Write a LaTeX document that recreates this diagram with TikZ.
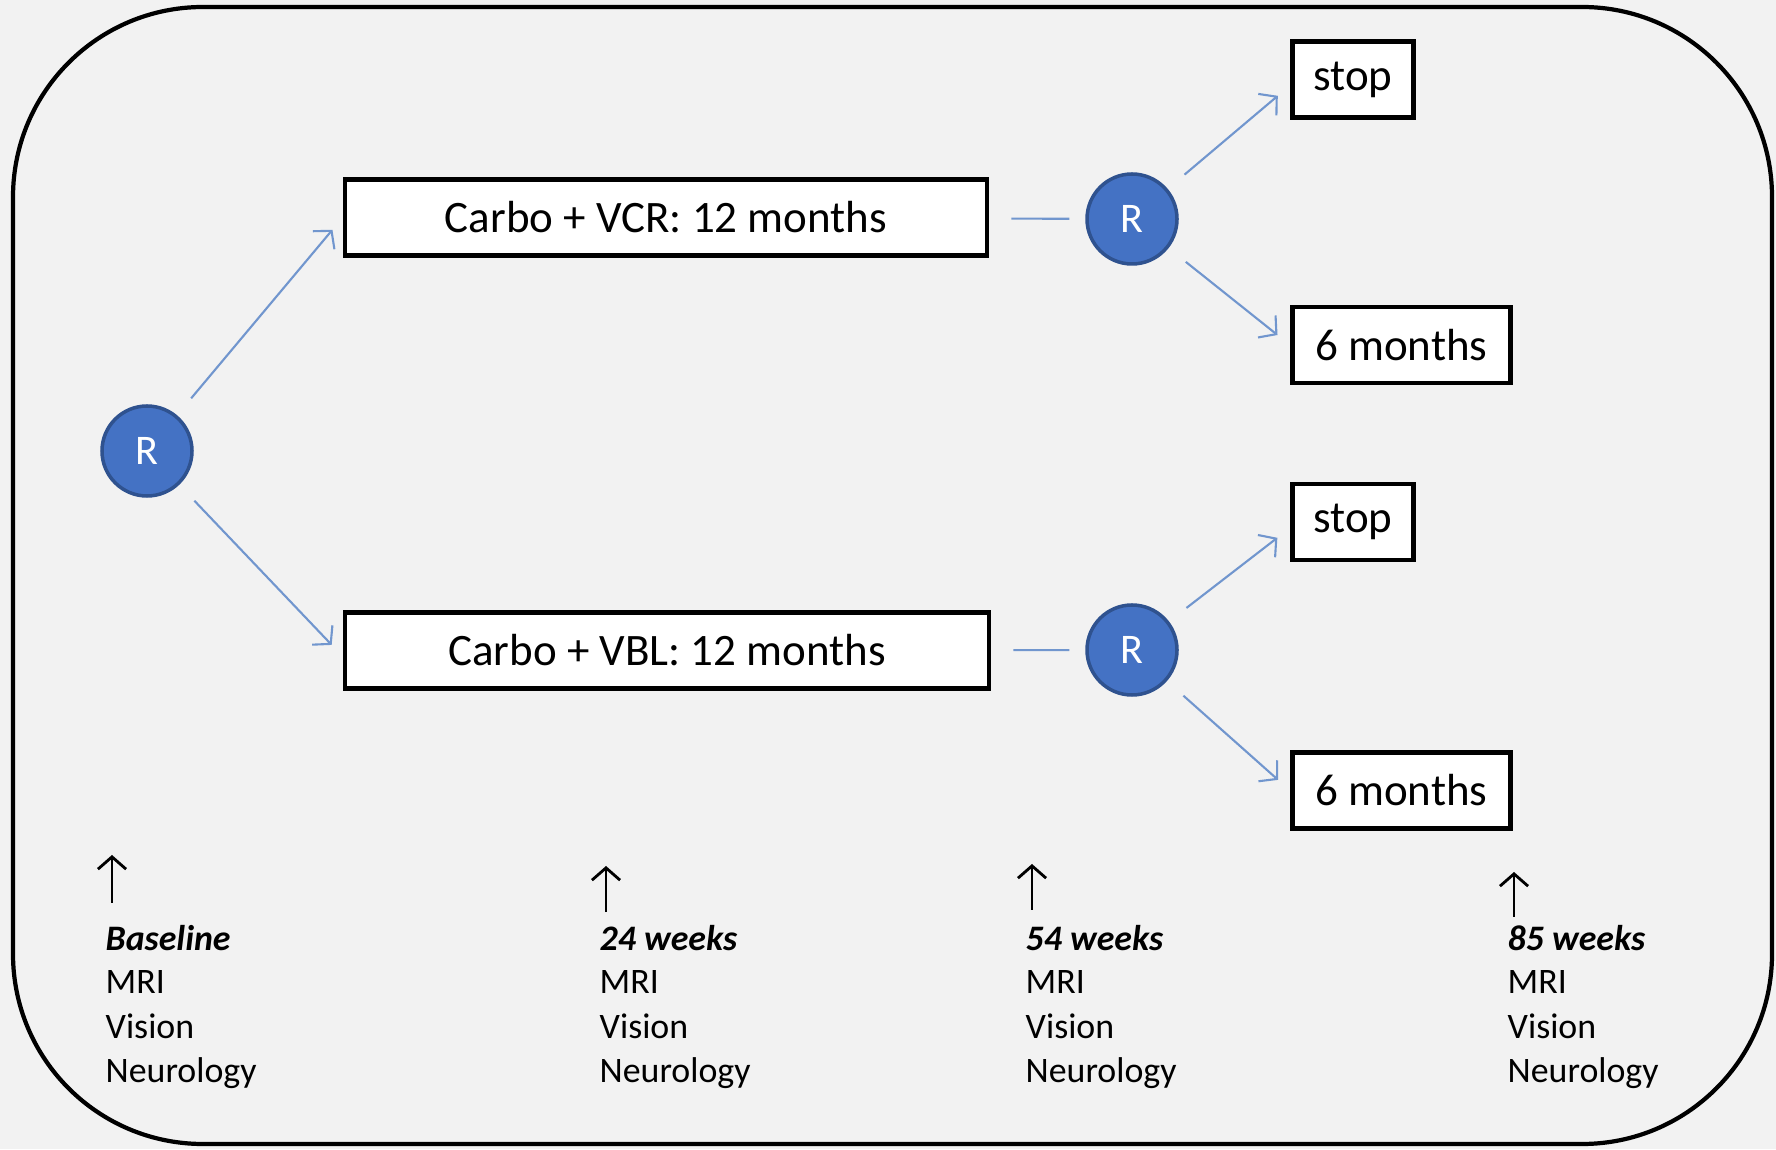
\documentclass[tikz,border=0pt]{standalone}
\usepackage{fontspec}
\setmainfont{Carlito}
\usetikzlibrary{arrows.meta}
\definecolor{bggray}{HTML}{F2F2F2}
\definecolor{rblue}{HTML}{4472C4}
\definecolor{rborder}{HTML}{2F528F}
\definecolor{linkblue}{HTML}{7196CE}
\begin{document}
\begin{tikzpicture}[
  >={Straight Barb[length=3.5pt,width=8pt]},
  rnode/.style={circle,fill=rblue,draw=rborder,line width=1pt,minimum size=0.9cm,inner sep=0pt,text=white,font=\fontsize{12}{14}\selectfont},
  armbox/.style={draw,fill=white,line width=1.3pt,minimum height=0.76cm,inner sep=0pt,font=\fontsize{12.8}{15}\selectfont},
  link/.style={draw=linkblue,line width=0.6pt,shorten <=0.22cm,shorten >=0.16cm},
  visit/.style={anchor=base west,inner sep=0pt,font=\fontsize{10.2}{12}\selectfont}
]
\fill[bggray] (0,0) rectangle (17.76,11.49);
\draw[line width=1.2pt,rounded corners=1.9cm] (0.13,0.05) rectangle (17.72,11.42);

\node[rnode] (R0) at (1.47,6.98) {R};
\node[armbox,minimum width=6.42cm] (vcr) at (6.66,9.315) {Carbo + VCR: 12 months};
\node[armbox,minimum width=6.44cm] (vbl) at (6.67,4.985) {Carbo + VBL: 12 months};
\node[rnode] (R1) at (11.32,9.30) {R};
\node[rnode] (R2) at (11.32,4.99) {R};
\node[armbox,anchor=west,minimum width=1.21cm] (stopA) at (12.90,10.695) {stop};
\node[armbox,anchor=west,minimum width=2.18cm] (sixA) at (12.90,8.04) {6 months};
\node[armbox,anchor=west,minimum width=1.21cm] (stopB) at (12.90,6.27) {stop};
\node[armbox,anchor=west,minimum width=2.18cm] (sixB) at (12.90,3.585) {6 months};

\draw[link,->] (R0) -- (vcr.west);
\draw[link,->] (R0) -- ([yshift=-0.06cm]vbl.west);
\draw[link] (vcr) -- (R1);
\draw[link] (vbl) -- (R2);
\draw[link,->] (R1) -- ([yshift=-0.06cm]stopA.west);
\draw[link,->] (R1) -- (sixA.west);
\draw[link,->] (R2) -- ([yshift=-0.06cm]stopB.west);
\draw[link,->] (R2) -- (sixB.west);

\foreach \x/\ya/\yb in {1.12/2.46/2.94, 6.06/2.37/2.83, 10.32/2.39/2.85, 15.14/2.32/2.77}
\draw[->,line width=0.8pt] (\x,\ya) -- (\x,\yb);

\foreach \x/\t/\n in {1.05/Baseline/t0, 5.99/24 weeks/t24, 10.25/54 weeks/t54, 15.07/85 weeks/t85} {
\node[visit] (\n) at (\x,1.99) {\textbf{\textit{\t}}};
\node[visit] (\n mri) at (\x,1.55) {MRI};
\node[visit] (\n vis) at (\x,1.11) {Vision};
\node[visit] (\n neu) at (\x,0.67) {Neurology};
}
\end{tikzpicture}
\end{document}
